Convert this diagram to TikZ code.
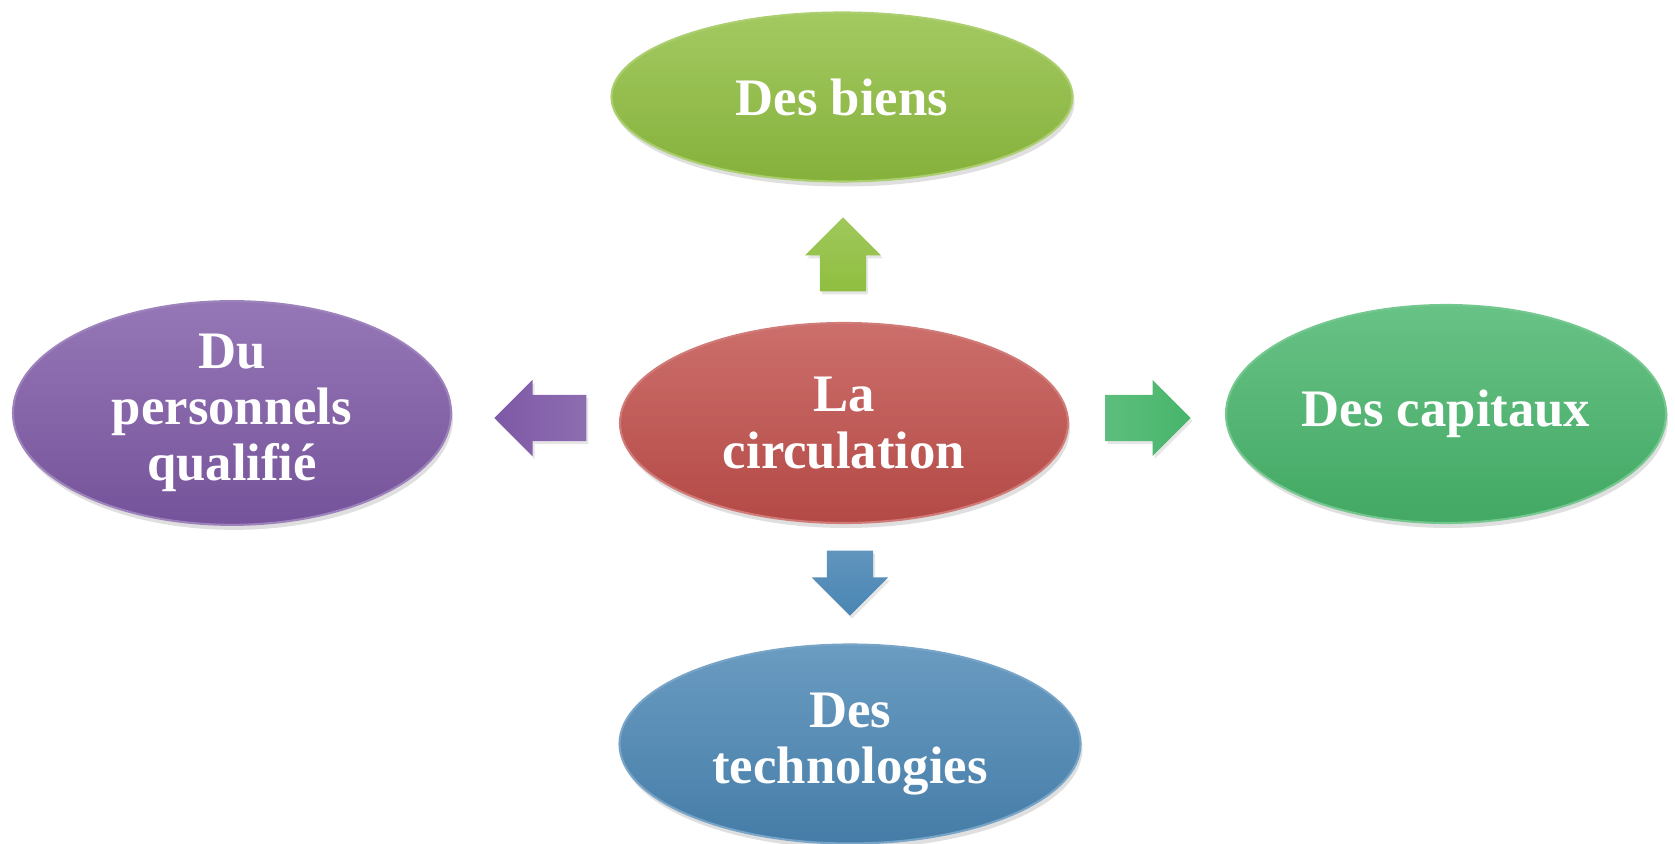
\documentclass[tikz,border=0pt]{standalone}
\usepackage{fontspec}
\setmainfont{Liberation Serif}
\usetikzlibrary{shapes.geometric,shapes.arrows,shadows}

\definecolor{biens}{HTML}{8FBE3F}
\definecolor{circ}{HTML}{C14F4B}
\definecolor{pers}{HTML}{7E59A6}
\definecolor{capit}{HTML}{47B56B}
\definecolor{techno}{HTML}{4A86B4}

\begin{document}
\begin{tikzpicture}[
	bubble/.style={ellipse, inner sep=0pt, align=center, text=white,
		font=\fontsize{15}{16}\selectfont\bfseries,
		draw=#1!75!white, line width=0.6pt,
		top color=#1!82!white, middle color=#1, bottom color=#1!93!black,
		drop shadow={opacity=0.25, shadow xshift=0.02, shadow yshift=-0.05}},
	blockarrow/.style={single arrow, inner xsep=0pt, inner ysep=0.225cm,
		single arrow head extend=0.15cm, minimum height=#1, anchor=tail,
		draw=none, drop shadow={opacity=0.2, shadow xshift=0.02, shadow yshift=-0.03}},
	]
	\useasboundingbox (0,0) rectangle (16.75,8.43);

	\node[bubble=biens, minimum width=4.61cm, minimum height=1.69cm] (biens) at (8.42,7.46) {Des biens};
	\node[bubble=circ, minimum width=4.48cm, minimum height=2.00cm] (circ) at (8.44,4.20) {La\\circulation};
	\node[bubble=pers, minimum width=4.38cm, minimum height=2.21cm] (pers) at (2.32,4.30) {Du\\personnels\\qualifié};
	\node[bubble=capit, minimum width=4.40cm, minimum height=2.18cm] (capit) at (14.46,4.29) {Des capitaux};
	\node[bubble=techno, minimum width=4.61cm, minimum height=1.99cm] (techno) at (8.50,0.99) {Des\\technologies};

	% The arrows round the centre
	\node[blockarrow=0.74cm, rotate=90, top color=biens!85!white, bottom color=biens] (tobiens) at (8.43,5.51) {};
	\node[blockarrow=0.92cm, rotate=180, left color=pers, right color=pers!88!white] (topers) at (5.87,4.25) {};
	\node[blockarrow=0.85cm, left color=capit!88!white, right color=capit] (tocapit) at (11.05,4.25) {};
	\node[blockarrow=0.65cm, rotate=-90, top color=techno!88!white, bottom color=techno] (totechno) at (8.50,2.93) {};
\end{tikzpicture}
\end{document}
